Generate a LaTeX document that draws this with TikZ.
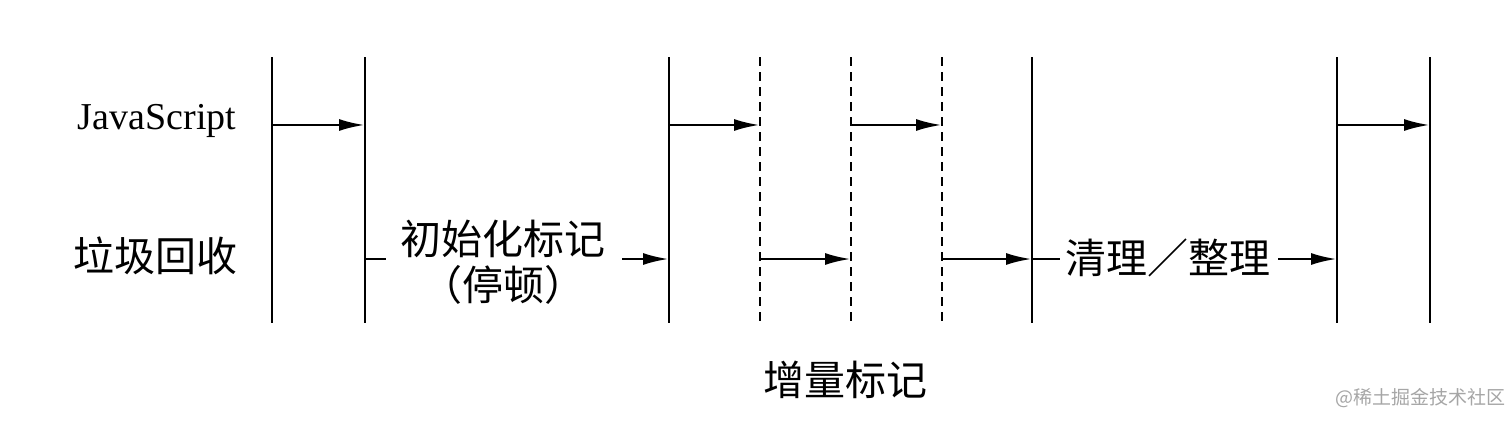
\documentclass[tikz,border=0pt]{standalone}
\usepackage{fontspec}
\setmainfont{Liberation Serif}
\newfontfamily\cjk{Noto Sans CJK SC}
\usetikzlibrary{arrows.meta,calc}
\begin{document}
\begin{tikzpicture}[x=1pt,y=-1pt,
  vline/.style={line width=2.2pt},
  dline/.style={line width=2.6pt,dash pattern=on 9pt off 6pt},
  arr/.style={line width=2.8pt,-{Latex[length=26pt,width=12pt]}},
  lab/.style={inner sep=0pt,font=\fontsize{38}{40}\selectfont},
  cl/.style={inner sep=0pt,font=\cjk\fontsize{41}{46}\selectfont}]
\useasboundingbox[fill=white] (0,0) rectangle (1512,423);
% vertical lines
\foreach \n/\x in {a/272,b/365,c/669,g/1032,h/1337,i/1430}{
  \coordinate (\n t) at (\x,57); \coordinate (\n b) at (\x,323);
  \draw[vline] (\n t) -- (\n b);}
\foreach \n/\x in {d/760,e/851,f/942}{
  \coordinate (\n t) at (\x,57); \coordinate (\n b) at (\x,323);
  \draw[dline] (\n t) -- (\n b);}
% labels
\node[lab] (js) at (157,121) {JavaScript};
\node[cl] (gc) at (155,256) {垃圾回收};
\node[cl,align=center,font=\cjk\fontsize{41}{46}\selectfont] (init) at (503,262) {初始化标记\\（停顿）};
\node[cl] (clean) at (1168,258) {清理／整理};
\node[cl] (inc) at (845,380) {增量标记};
\node[inner sep=0pt,text=gray!70,font=\cjk\fontsize{19}{22}\selectfont] (wm) at (1420,398) {@稀土掘金技术社区};
% JS row arrows
\foreach \s/\e in {a/b,c/d,e/f,h/i}{
  \draw[arr] ($(\s t)!0.2556!(\s b)$) -- ($(\e t)!0.2556!(\e b)$);}
% GC row
\coordinate (g1) at (365,259); \coordinate (g2) at (386,259);
\draw[line width=2.8pt] (g1) -- (g2);
\coordinate (g3) at (622,259); \coordinate (g4) at (669,259);
\draw[arr] (g3) -- (g4);
\coordinate (g5) at (760,259); \coordinate (g6) at (851,259);
\draw[arr] (g5) -- (g6);
\coordinate (g7) at (942,259); \coordinate (g8) at (1032,259);
\draw[arr] (g7) -- (g8);
\coordinate (g9) at (1060,259);
\draw[line width=2.8pt] (g8) -- (g9);
\coordinate (g10) at (1278,259); \coordinate (g11) at (1337,259);
\draw[arr] (g10) -- (g11);
\end{tikzpicture}
\end{document}
